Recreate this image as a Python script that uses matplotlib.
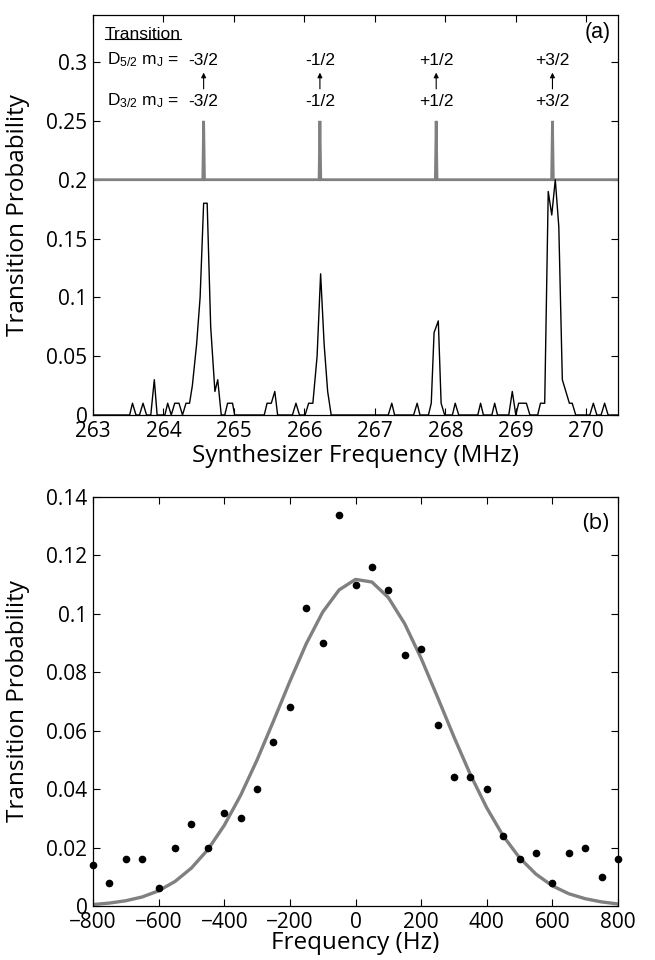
import matplotlib
matplotlib.use('Agg')
import matplotlib.pyplot as plt
from matplotlib.lines import Line2D

plt.rcParams['font.family'] = ['Open Sans', 'DejaVu Sans']
plt.rcParams['mathtext.fontset'] = 'custom'
plt.rcParams['mathtext.rm'] = 'Liberation Sans'
plt.rcParams['mathtext.it'] = 'Liberation Sans:italic'
plt.rcParams['axes.linewidth'] = 0.9

# ---- panel (a): measured spectrum vs synthesizer frequency ----
synth_freq_mhz = [263.00, 263.52, 263.56, 263.61, 263.66, 263.71, 263.76, 263.82, 263.87, 263.91,
                  264.02, 264.06, 264.11, 264.16, 264.22, 264.27, 264.32, 264.37, 264.41, 264.47,
                  264.52, 264.57, 264.62, 264.67, 264.73, 264.77, 264.82, 264.87, 264.91, 264.98,
                  265.01, 265.43, 265.47, 265.53, 265.58, 265.62, 265.83, 265.88, 265.93, 266.01,
                  266.06, 266.12, 266.18, 266.23, 266.28, 266.33, 266.38, 267.19, 267.24, 267.28,
                  267.55, 267.60, 267.64, 267.76, 267.80, 267.84, 267.90, 267.94, 267.99, 268.10,
                  268.14, 268.19, 268.46, 268.50, 268.54, 268.66, 268.70, 268.74, 268.90, 268.95,
                  269.00, 269.04, 269.15, 269.20, 269.31, 269.35, 269.41, 269.46, 269.51, 269.56,
                  269.61, 269.66, 269.71, 269.76, 269.80, 269.85, 270.05, 270.10, 270.15, 270.21,
                  270.26, 270.31, 270.45]
synth_prob = [0, 0, 0.01, 0, 0, 0.01, 0, 0, 0.03, 0,
              0, 0.01, 0, 0.01, 0.01, 0, 0.01, 0.01, 0.025, 0.06,
              0.10, 0.18, 0.18, 0.075, 0.02, 0.03, 0, 0, 0.01, 0.01,
              0, 0, 0.01, 0.01, 0.02, 0, 0, 0.01, 0, 0,
              0.01, 0.01, 0.05, 0.12, 0.06, 0.02, 0, 0, 0.01, 0,
              0, 0.01, 0, 0, 0.01, 0.07, 0.08, 0.01, 0, 0,
              0.01, 0, 0, 0.01, 0, 0, 0.01, 0, 0, 0.02,
              0, 0.01, 0.01, 0, 0, 0.01, 0.01, 0.19, 0.17, 0.20,
              0.16, 0.03, 0.02, 0.01, 0.01, 0, 0, 0.01, 0, 0,
              0.01, 0, 0]

# expected transition lines (drawn offset at 0.2)
line_freq_mhz = [264.57, 266.22, 267.87, 269.52]
line_base = 0.2
line_top = 0.25
line_labels = ['-3/2', '-1/2', '+1/2', '+3/2']

# ---- panel (b): single line scan ----
scan_freq_hz = [-800, -750, -700, -650, -600, -550, -500, -450, -400, -350, -300,
                -250, -200, -150, -100, -50, 0, 50, 100, 150, 200, 250,
                300, 350, 400, 450, 500, 550, 600, 650, 700, 750, 800]
scan_prob = [0.014, 0.008, 0.016, 0.016, 0.006, 0.020, 0.028, 0.020, 0.032, 0.030, 0.040,
             0.056, 0.068, 0.102, 0.090, 0.134, 0.110, 0.116, 0.108, 0.086, 0.088, 0.062,
             0.044, 0.044, 0.040, 0.024, 0.016, 0.018, 0.008, 0.018, 0.020, 0.010, 0.016]
fit_prob = [0.0005, 0.0010, 0.0018, 0.0031, 0.0052, 0.0084, 0.0130, 0.0193, 0.0276, 0.0379, 0.0500,
            0.0633, 0.0769, 0.0898, 0.1006, 0.1082, 0.1118, 0.1109, 0.1056, 0.0966, 0.0848, 0.0715,
            0.0579, 0.0450, 0.0336, 0.0240, 0.0165, 0.0109, 0.0069, 0.0042, 0.0025, 0.0014, 0.0007]

GREY = '#808080'


def style_axes(ax):
    # matlab look: inward ticks on all four sides
    ax.tick_params(direction='in', top=True, right=True, length=5, width=0.8,
                   labelsize=15, pad=4)
    for s in ax.spines.values():
        s.set_color('black')


def plot_spectrum(ax):
    """
    panel (a): gray stick spectrum on top, measured data below
    returns the 'Transition' text so it can be underlined later
    """
    xlo, xhi = 263.0, 270.45
    # gray reference line with narrow spikes at each transition
    gx = [xlo]
    gy = [line_base]
    for f in line_freq_mhz:
        gx += [f - 0.012, f, f + 0.012]
        gy += [line_base, line_top, line_base]
    gx.append(xhi)
    gy.append(line_base)
    ax.plot(gx, gy, color=GREY, lw=2.0, solid_joinstyle='miter')
    ax.plot(synth_freq_mhz, synth_prob, color='black', lw=1.0)

    ax.set_xlim(xlo, xhi)
    ax.set_ylim(0, 0.34)
    ax.set_xticks(range(263, 271))
    ax.set_xticklabels([str(v) for v in range(263, 271)])
    yt = [0, 0.05, 0.1, 0.15, 0.2, 0.25, 0.3]
    ax.set_yticks(yt)
    ax.set_yticklabels(['0', '0.05', '0.1', '0.15', '0.2', '0.25', '0.3'])
    style_axes(ax)
    ax.set_xlabel('Synthesizer Frequency (MHz)', fontsize=17.5, labelpad=2)
    ax.set_ylabel('Transition Probability', fontsize=17.5)
    ax.yaxis.set_label_coords(-0.12, 0.5)

    lab = dict(fontsize=12.5, family='Liberation Sans', va='baseline')
    title = ax.text(263.17, 0.3199, 'Transition', ha='left', **lab)
    ax.text(263.2, 0.2977, r'D$_{\mathrm{5/2}}$ m$_{\mathrm{J}}$ =', ha='left', **lab)
    ax.text(263.2, 0.2630, r'D$_{\mathrm{3/2}}$ m$_{\mathrm{J}}$ =', ha='left', **lab)
    for f, t in zip(line_freq_mhz, line_labels):
        ax.text(f, 0.2977, t, ha='center', **lab)
        ax.text(f, 0.2630, t, ha='center', **lab)
        ax.annotate('', xy=(f, 0.2910), xytext=(f, 0.2772),
                    arrowprops=dict(arrowstyle='-|>', color='black', lw=0.8,
                                    mutation_scale=7, shrinkA=0, shrinkB=0))
    ax.text(0.987, 0.982, '(a)', transform=ax.transAxes, ha='right', va='top',
            fontsize=15.5, family='Liberation Sans')
    return title


def plot_lineshape(ax):
    """
    panel (b): scan over one line with fitted lineshape
    """
    ax.plot(scan_freq_hz, fit_prob, color=GREY, lw=2.4)
    ax.plot(scan_freq_hz, scan_prob, 'o', color='black', ms=4.5, clip_on=False)
    ax.set_xlim(-800, 800)
    ax.set_ylim(0, 0.14)
    xt = list(range(-800, 801, 200))
    ax.set_xticks(xt)
    ax.set_xticklabels([str(v).replace('-', '\u2212') for v in xt])
    yt = [0, 0.02, 0.04, 0.06, 0.08, 0.1, 0.12, 0.14]
    ax.set_yticks(yt)
    ax.set_yticklabels(['0', '0.02', '0.04', '0.06', '0.08', '0.1', '0.12', '0.14'])
    style_axes(ax)
    ax.set_xlabel('Frequency (Hz)', fontsize=17.5, labelpad=-1)
    ax.set_ylabel('Transition Probability', fontsize=17.5)
    ax.yaxis.set_label_coords(-0.12, 0.5)
    ax.text(0.982, 0.962, '(b)', transform=ax.transAxes, ha='right', va='top',
            fontsize=16)


fig = plt.figure(figsize=(6.55, 9.6), dpi=100)
ax_a = fig.add_axes([93 / 655, 1 - 415 / 960, 525 / 655, 400 / 960])
ax_b = fig.add_axes([93 / 655, 54 / 960, 525 / 655, 409 / 960])
title = plot_spectrum(ax_a)
plot_lineshape(ax_b)

# underline the 'Transition' heading (mathtext has no \underline)
fig.canvas.draw()
bb = title.get_window_extent().transformed(fig.transFigure.inverted())
uy = bb.y0 + 0.17 * bb.height
fig.add_artist(Line2D([bb.x0, bb.x1], [uy, uy], color='black', lw=0.8,
                      transform=fig.transFigure))
fig.savefig('out.png', dpi=100)
